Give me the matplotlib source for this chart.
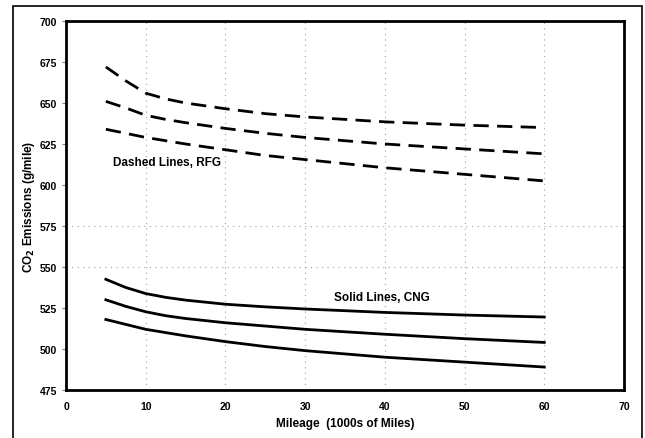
import matplotlib
matplotlib.use("Agg")
import matplotlib.pyplot as plt
from matplotlib.patches import Rectangle

plt.rcParams['font.family'] = ['Liberation Sans', 'DejaVu Sans']
plt.rcParams['font.weight'] = 'bold'

mileage = [5, 7.5, 10, 12.5, 15, 20, 25, 30, 40, 50, 60]
rfg_high = [672, 663.5, 656, 652.5, 650, 646.5, 643.5, 641.5, 638.5, 636.5, 635]
rfg_mid = [651, 647, 642.5, 640, 638, 634.5, 631.5, 629, 625, 622, 619]
rfg_low = [634, 631.5, 629, 627, 625, 621.5, 618, 615.5, 610.5, 606.5, 602.5]
cng_high = [542.5, 537.5, 533.8, 531.5, 529.8, 527.3, 525.7, 524.4, 522.3, 520.7, 519.5]
cng_mid = [530, 526, 522.7, 520.3, 518.6, 516, 514, 512, 509, 506.3, 504]
cng_low = [518, 515, 512, 510, 508, 504.5, 501.5, 499, 495, 492, 489]

x_ticks = [0, 10, 20, 30, 40, 50, 60, 70]
y_ticks = [475, 500, 525, 550, 575, 600, 625, 650, 675, 700]
v_grid = [10, 20, 30, 40, 50, 60]
h_grid = [550, 575]

fig = plt.figure(figsize=(6.45, 4.39), dpi=100)
fig.patches.append(Rectangle((13/645, -0.05), (642-13)/645, 1.05 - 7/439,
                             transform=fig.transFigure, fill=False,
                             edgecolor='black', linewidth=1.2))
ax = fig.add_axes([66/645, (439-391)/439, (624-66)/645, (391-22)/439])

for xv in v_grid:
    ax.axvline(xv, color='#a0a0a0', linestyle=(0, (1, 4)), linewidth=0.8, zorder=0)
for yv in h_grid:
    ax.axhline(yv, color='#a0a0a0', linestyle=(0, (1, 4)), linewidth=0.8, zorder=0)

dash = (0, (5.5, 3))
for ys in (rfg_high, rfg_mid, rfg_low):
    ax.plot(mileage, ys, color='black', linewidth=2, linestyle=dash)
for ys in (cng_high, cng_mid, cng_low):
    ax.plot(mileage, ys, color='black', linewidth=2)

ax.set_xlim(0, 70)
ax.set_ylim(475, 700)
ax.set_xticks(x_ticks)
ax.set_yticks(y_ticks)
ax.tick_params(axis='both', labelsize=7.5, length=3, width=0.8, color='#808080')
ax.tick_params(axis='x', length=0, pad=8)
for lab in ax.get_xticklabels() + ax.get_yticklabels():
    lab.set_fontweight('bold')
for sp in ax.spines.values():
    sp.set_linewidth(2)

ax.set_xlabel('Mileage  (1000s of Miles)', fontsize=8.5, fontweight='bold', labelpad=4)
ax.set_ylabel('CO$_\\mathbf{2}$ Emissions (g/mile)', fontsize=8.5, fontweight='bold')
ax.yaxis.set_label_coords(-0.052, 0.5)

ax.text(12.7, 614, 'Dashed Lines, RFG', fontsize=8.5, fontweight='bold', ha='center', va='center')
ax.text(39.6, 531.5, 'Solid Lines, CNG', fontsize=8.5, fontweight='bold', ha='center', va='center')

fig.savefig('out.png', dpi=100)
